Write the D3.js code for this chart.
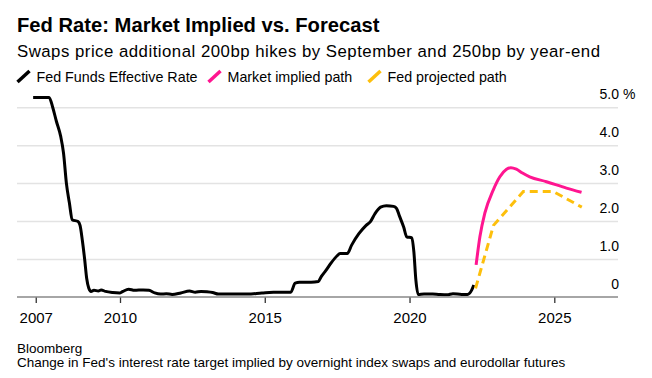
<!doctype html>
<html lang="en">
<head>
    <meta charset="utf-8">
    <title>Fed Rate: Market Implied vs. Forecast</title>
    <script src="https://d3js.org/d3.v7.min.js"></script>
    <style>
        body { margin: 0; background: #fff; }
        text { font-family: "Liberation Sans", Arial, sans-serif; fill: #000; }
    </style>
</head>
<body>
    <script>
       // values (decimal year, percent)
       const fedFunds = [
           [2007.0, 5.27], [2007.55, 5.27], [2007.68, 5.0], [2007.8, 4.65], [2007.95, 4.25],
           [2008.05, 3.8], [2008.15, 3.0], [2008.25, 2.5], [2008.35, 2.05], [2008.55, 2.0],
           [2008.62, 1.9], [2008.7, 1.5], [2008.78, 1.0], [2008.85, 0.5], [2008.92, 0.25],
           [2009.0, 0.16], [2009.1, 0.19], [2009.25, 0.17], [2009.35, 0.2], [2009.5, 0.16],
           [2009.75, 0.13], [2010.0, 0.12], [2010.1, 0.16], [2010.3, 0.22], [2010.5, 0.19],
           [2010.8, 0.2], [2011.0, 0.19], [2011.2, 0.12], [2011.4, 0.09], [2011.6, 0.1],
           [2011.8, 0.08], [2012.1, 0.12], [2012.4, 0.17], [2012.6, 0.14], [2012.8, 0.16],
           [2013.0, 0.15], [2013.2, 0.13], [2013.4, 0.09], [2013.9, 0.09], [2014.4, 0.09],
           [2014.9, 0.12], [2015.3, 0.14], [2015.9, 0.14], [2016.05, 0.38], [2016.2, 0.4],
           [2016.6, 0.4], [2016.85, 0.42], [2016.95, 0.55], [2017.1, 0.7], [2017.3, 0.92],
           [2017.5, 1.1], [2017.6, 1.16], [2017.85, 1.16], [2018.0, 1.38], [2018.25, 1.68],
           [2018.5, 1.9], [2018.65, 2.0], [2018.8, 2.2], [2019.0, 2.38], [2019.2, 2.42],
           [2019.45, 2.4], [2019.55, 2.35], [2019.65, 2.15], [2019.8, 1.85], [2019.9, 1.6],
           [2020.08, 1.57], [2020.15, 1.2], [2020.22, 0.45], [2020.3, 0.08], [2020.5, 0.09],
           [2020.8, 0.09], [2021.0, 0.08], [2021.3, 0.07], [2021.5, 0.1], [2021.8, 0.08],
           [2022.0, 0.08], [2022.15, 0.2], [2022.22, 0.33]
       ];
       const marketPath = [
           [2022.3, 0.86], [2022.43, 1.6], [2022.6, 2.22], [2022.89, 2.83], [2023.12, 3.18],
           [2023.35, 3.38], [2023.5, 3.42], [2023.69, 3.38], [2023.9, 3.28], [2024.15, 3.18],
           [2024.73, 3.05], [2025.42, 2.88], [2025.94, 2.77]
       ];
       const fedPath = [
           [2022.28, 0.24], [2022.9, 1.9], [2023.93, 2.79], [2024.97, 2.79], [2025.95, 2.38]
       ];
       const yTicks = [0, 1, 2, 3, 4, 5];
       const yTickLabels = ["0", "1.0", "2.0", "3.0", "4.0", "5.0"];
       const xTicks = [2007.09, 2010, 2015, 2020, 2025];
       const xTickLabels = ["2007", "2010", "2015", "2020", "2025"];
       const legendNames = ["Fed Funds Effective Rate", "Market implied path", "Fed projected path"];
       const legendColors = ["#000000", "#ff1590", "#fdbf0c"];

       let width = 652, height = 378;
       let left = 17, right = 618;

       let svg = d3.select('body').append('svg')
                   .attr('width', width).attr('height', height);

       let x = d3.scaleLinear().domain([2010, 2025]).range([120, 554.3]);
       let y = d3.scaleLinear().domain([0, 5]).range([297.5, 107.7]);

       // titles
       svg.append('text').attr('x', left).attr('y', 32.3)
          .style('font-size', '20.2px').style('font-weight', 'bold')
          .text('Fed Rate: Market Implied vs. Forecast');
       svg.append('text').attr('x', left).attr('y', 56.7)
          .style('font-size', '16.8px')
          .attr('textLength', 583).attr('lengthAdjust', 'spacing')
          .text('Swaps price additional 200bp hikes by September and 250bp by year-end');

       // legend
       let legendX = [17, 208, 368];
       let legend = svg.selectAll('.legend').data(legendNames).enter().append('g')
                       .attr('transform', (d, i) => `translate(${legendX[i]}, 0)`);
       legend.append('line')
             .attr('x1', 0.5).attr('y1', 82).attr('x2', 12.5).attr('y2', 71)
             .attr('stroke', (d, i) => legendColors[i]).attr('stroke-width', 3.5);
       legend.append('text').attr('x', 19.5).attr('y', 81.7)
             .style('font-size', '14.3px')
             .text(d => d);

       // grid
       svg.selectAll('.grid').data(yTicks.filter(v => v > 0)).enter().append('line')
          .attr('x1', left).attr('x2', right)
          .attr('y1', d => y(d)).attr('y2', d => y(d))
          .attr('stroke', '#e3e3e3').attr('stroke-width', 1.5);

       svg.selectAll('.ylab').data(yTicks).enter().append('text')
          .attr('x', 619).attr('y', d => y(d) - 8.5)
          .attr('text-anchor', 'end')
          .style('font-size', '14px')
          .text((d, i) => yTickLabels[i]);
       svg.append('text').attr('x', 623).attr('y', y(5) - 8.5)
          .style('font-size', '14px').text('%');

       // x axis
       let xAxis = d3.axisBottom(x).tickValues(xTicks)
                     .tickFormat((d, i) => xTickLabels[i])
                     .tickSize(6).tickPadding(9);
       let gx = svg.append('g').attr('transform', 'translate(0, 297)').call(xAxis);
       gx.select('.domain').remove();
       gx.selectAll('.tick line').attr('stroke', '#333').attr('stroke-width', 1.3);
       gx.selectAll('.tick text').style('font-size', '15px')
         .style('font-family', '"Liberation Sans", Arial, sans-serif').attr('fill', '#000');

       // lines
       let line = d3.line().x(d => x(d[0])).y(d => y(d[1]));

       svg.append('path').datum(fedFunds)
          .attr('d', line.curve(d3.curveMonotoneX))
          .attr('fill', 'none').attr('stroke', legendColors[0])
          .attr('stroke-width', 3).attr('stroke-linejoin', 'round');

       svg.append('path').datum(marketPath)
          .attr('d', line.curve(d3.curveMonotoneX))
          .attr('fill', 'none').attr('stroke', legendColors[1])
          .attr('stroke-width', 3);

       svg.append('path').datum(fedPath)
          .attr('d', line.curve(d3.curveLinear))
          .attr('fill', 'none').attr('stroke', legendColors[2])
          .attr('stroke-width', 3).attr('stroke-dasharray', '8,5');

       svg.append('line').attr('x1', left).attr('x2', right)
          .attr('y1', 297).attr('y2', 297)
          .attr('stroke', '#888').attr('stroke-width', 1.5);

       // footer
       svg.append('text').attr('x', left).attr('y', 352.7)
          .style('font-size', '13.5px').text('Bloomberg');
       svg.append('text').attr('x', left).attr('y', 366.7)
          .style('font-size', '13.5px')
          .text("Change in Fed's interest rate target implied by overnight index swaps and eurodollar futures");
    </script>
</body>
</html>
